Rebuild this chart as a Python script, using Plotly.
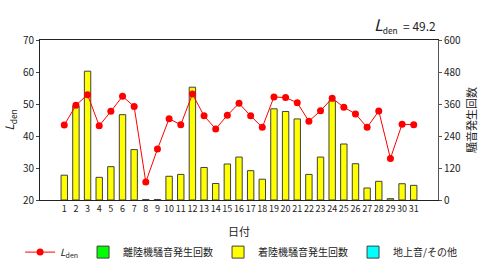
import plotly.graph_objects as go

days = [str(d) for d in range(1, 32)]
lden = [43.4, 49.6, 52.9, 43.2, 47.7, 52.4, 49.2, 25.6, 35.9, 45.4, 43.5, 53.1, 46.3, 42.2, 46.5,
        50.2, 46.3, 42.7, 52.2, 52.0, 50.4, 44.6, 47.9, 51.8, 49.0, 46.9, 42.7, 47.8, 33.0, 43.7, 43.5]
takeoff = [None] * 31
landing = [93, 352, 483, 85, 125, 320, 189, 2, 2, 89, 96, 423, 122, 62, 135,
           161, 110, 78, 342, 332, 304, 96, 161, 372, 210, 136, 45, 70, 5, 61, 55]
ground = [None] * 31
lden_total = "49.2"

FONT = "Noto Sans CJK JP, sans-serif"

fig = go.Figure()
fig.add_trace(go.Bar(x=days, y=takeoff, name="離陸機騒音発生回数", yaxis="y",
                     marker=dict(color="#00FF00", line=dict(color="#404040", width=1)), legendrank=2))
fig.add_trace(go.Bar(x=days, y=landing, name="着陸機騒音発生回数", yaxis="y",
                     marker=dict(color="#FFFF00", line=dict(color="#404040", width=1)), legendrank=3))
fig.add_trace(go.Bar(x=days, y=ground, name="地上音/その他", yaxis="y",
                     marker=dict(color="#00FFFF", line=dict(color="#404040", width=1)), legendrank=4))
fig.add_trace(go.Scatter(x=days, y=lden, name="<i>L</i><sub>den</sub>", yaxis="y2", mode="lines+markers",
                         line=dict(color="#FF0000", width=1), marker=dict(color="#FF0000", size=7),
                         legendrank=1))

fig.update_layout(
    width=480, height=263,
    margin=dict(l=40, r=42, t=40, b=63, autoexpand=False),
    paper_bgcolor="white", plot_bgcolor="white",
    font=dict(family=FONT, size=10, color="#222222"),
    barmode="overlay", bargap=0.45,
    showlegend=True,
    legend=dict(orientation="h", x=-0.05, y=-0.235, xanchor="left", yanchor="top",
                font=dict(size=10), itemwidth=30, tracegroupgap=0, traceorder="normal",
                entrywidth=0, bgcolor="rgba(0,0,0,0)"),
    xaxis=dict(type="category", showline=True, mirror=True, linecolor="#222222", linewidth=1,
               ticks="", showgrid=False, tickmode="array", tickvals=days, ticktext=days,
               tickangle=0, tickfont=dict(size=9),
               title=dict(text="日付", standoff=14, font=dict(size=11))),
    yaxis=dict(side="right", range=[0, 600], dtick=120, showline=True, linecolor="#555555",
               ticks="outside", ticklen=3, tickcolor="#555555", showgrid=False, zeroline=False,
               title=dict(text="騒音発生回数", standoff=8, font=dict(size=11))),
    yaxis2=dict(side="left", overlaying="y", range=[20, 70], dtick=10, showline=True,
                linecolor="#222222", ticks="outside", ticklen=3, showgrid=False, zeroline=False,
                title=dict(text="<i>L</i><sub>den</sub>", standoff=8, font=dict(size=12))),
    annotations=[dict(xref="paper", yref="paper", x=1.0, y=1.01, xanchor="right", yanchor="bottom",
                      showarrow=False, font=dict(size=12, color="#222222"),
                      text="<span style='font-size:16px'><i>L</i></span><sub>den</sub>  = " + lden_total)],
)

fig.write_html("out.html")
